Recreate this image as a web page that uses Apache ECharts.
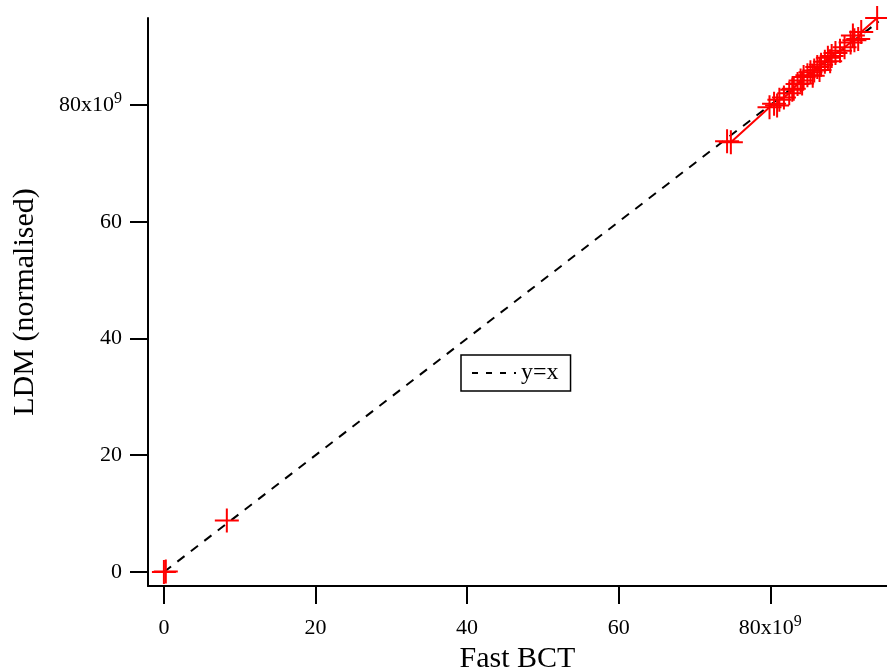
<!DOCTYPE html>
<html>
<head>
<meta charset="utf-8">
<script src="https://cdn.jsdelivr.net/npm/echarts@6/dist/echarts.min.js"></script>
<style>
  html, body { margin: 0; padding: 0; background: #fff; }
  #chart { width: 887px; height: 671px; }
</style>
</head>
<body>
<div id="chart"></div>
<script>
// values in units of 1e9
const tickValues = [0, 20, 40, 60, 80];
const isolatedPoints = [[0, 0], [0.25, 0.1], [8.3, 8.8]];
const clusterPoints = [
  [74.3, 73.8], [74.8, 73.6], [79.9, 79.6], [80.5, 80.2], [80.9, 79.9],
  [81.2, 80.9], [81.8, 81.3], [82.5, 82.0], [82.9, 82.6], [83.1, 82.8],
  [83.6, 83.6], [84.0, 84.2], [84.2, 83.7], [84.4, 84.8], [84.9, 85.1],
  [85.3, 85.6], [85.6, 85.0], [85.8, 85.9], [86.2, 86.5], [86.5, 86.0],
  [86.7, 86.9], [87.2, 87.4], [87.6, 88.1], [87.9, 87.5], [88.1, 88.4],
  [88.6, 88.9], [89.2, 89.3], [89.8, 89.9], [90.6, 90.7], [90.9, 91.9],
  [91.1, 91.1], [91.6, 91.3], [92.0, 92.5], [94.1, 94.9]
];
const identityLine = [[0, 0], [94.3, 94.3]];

const font = "'Liberation Serif', 'DejaVu Serif', serif";
const crossPath = "path://M-1,-12L1,-12L1,-1L12,-1L12,1L1,1L1,12L-1,12L-1,1L-12,1L-12,-1L-1,-1Z";

const labelRich = {
  b: { fontFamily: font, fontSize: 22, color: "#000", lineHeight: 28 },
  s: { fontFamily: font, fontSize: 16, color: "#000", verticalAlign: "top", lineHeight: 14 }
};
const tickFormatter = (v) => (v === 80 ? "{b|80x10}{s|9}" : "{b|" + v + "}");

const chart = echarts.init(document.getElementById("chart"), null, { renderer: "canvas" });

chart.setOption({
  animation: false,
  backgroundColor: "#fff",
  grid: { left: 148, right: 0, top: 18, bottom: 85, containLabel: false, outerBoundsMode: "none" },
  legend: {
    data: ["y=x"],
    left: 461,
    top: 355,
    orient: "vertical",
    padding: [6, 12, 6, 10],
    itemWidth: 44,
    itemHeight: 24,
    itemGap: 0,
    borderColor: "#000",
    borderWidth: 1.5,
    borderRadius: 0,
    itemStyle: { opacity: 0 },
    lineStyle: { type: [6, 8], width: 2, color: "#000" },
    textStyle: { fontFamily: font, fontSize: 24, color: "#000" }
  },
  xAxis: {
    type: "value",
    min: -2.1,
    max: 95.4,
    name: "Fast BCT",
    nameLocation: "middle",
    nameGap: 53,
    nameTextStyle: { fontFamily: font, fontSize: 30, color: "#000" },
    axisLine: { onZero: false, lineStyle: { color: "#000", width: 2 } },
    axisTick: { show: true, customValues: tickValues, length: 18, lineStyle: { color: "#000", width: 2 } },
    axisLabel: { customValues: tickValues, margin: 28, formatter: tickFormatter, rich: labelRich },
    splitLine: { show: false }
  },
  yAxis: {
    type: "value",
    min: -2.4,
    max: 94.9,
    name: "LDM (normalised)",
    nameLocation: "middle",
    nameGap: 108,
    nameTextStyle: { fontFamily: font, fontSize: 30, color: "#000" },
    axisLine: { onZero: false, lineStyle: { color: "#000", width: 2 } },
    axisTick: { show: true, customValues: tickValues, length: 18, lineStyle: { color: "#000", width: 2 } },
    axisLabel: { customValues: tickValues, margin: 26, formatter: tickFormatter, rich: labelRich },
    splitLine: { show: false }
  },
  series: [
    {
      name: "y=x",
      type: "line",
      data: identityLine,
      symbol: "none",
      lineStyle: { color: "#000", width: 2, type: [9, 8] },
      itemStyle: { color: "#000" },
      z: 1
    },
    {
      name: "LDM",
      type: "line",
      data: clusterPoints,
      symbol: crossPath,
      symbolSize: 24,
      showAllSymbol: true,
      lineStyle: { color: "#f00", width: 2 },
      itemStyle: { color: "#f00" },
      z: 2
    },
    {
      name: "LDM0",
      type: "scatter",
      data: isolatedPoints,
      symbol: crossPath,
      symbolSize: 24,
      itemStyle: { color: "#f00", opacity: 1 },
      z: 2
    }
  ]
});
</script>
</body>
</html>
